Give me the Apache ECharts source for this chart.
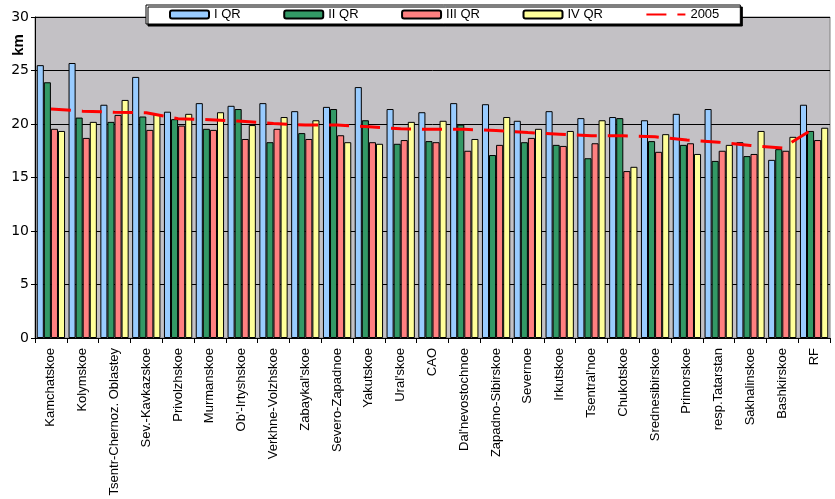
<!DOCTYPE html>
<html>
<head>
<meta charset="utf-8">
<script src="https://cdn.jsdelivr.net/npm/echarts@6/dist/echarts.min.js"></script>
<style>
  html, body { margin: 0; padding: 0; background: #ffffff; }
  #chart { width: 835px; height: 499px; }
</style>
</head>
<body>
<div id="chart"></div>
<script>
var categories = ["Kamchatskoe", "Kolymskoe", "Tsentr-Chernoz. Oblastey", "Sev.-Kavkazskoe", "Privolzhskoe",
  "Murmanskoe", "Ob'-Irtyshskoe", "Verkhne-Volzhskoe", "Zabaykal'skoe", "Severo-Zapadnoe",
  "Yakutskoe", "Ural'skoe", "CAO", "Dal'nevostochnoe", "Zapadno-Sibirskoe",
  "Severnoe", "Irkutskoe", "Tsentral'noe", "Chukotskoe", "Srednesibirskoe",
  "Primorskoe", "resp.Tatarstan", "Sakhalinskoe", "Bashkirskoe", "RF"];

var seriesNames = ["I QR", "II QR", "III QR", "IV QR", "2005"];

var q1 = [25.5, 25.7, 21.8, 24.4, 21.15, 21.95, 21.7, 21.95, 21.2, 21.6, 23.45, 21.4, 21.1, 21.95, 21.85, 20.3, 21.2, 20.55, 20.65, 20.35, 20.95, 21.4, 18.3, 16.65, 21.8];
var q2 = [23.9, 20.6, 20.2, 20.7, 20.45, 19.55, 21.4, 18.3, 19.15, 21.4, 20.35, 18.15, 18.4, 19.95, 17.1, 18.3, 18.05, 16.8, 20.55, 18.4, 18.05, 16.55, 17.0, 17.65, 19.35];
var q3 = [19.55, 18.7, 20.85, 19.45, 19.85, 19.45, 18.6, 19.55, 18.6, 18.95, 18.3, 18.5, 18.3, 17.5, 18.05, 18.7, 17.95, 18.2, 15.6, 17.4, 18.2, 17.5, 17.2, 17.5, 18.5];
var q4 = [19.35, 20.2, 22.25, 20.9, 20.95, 21.1, 19.9, 20.65, 20.35, 18.3, 18.15, 20.2, 20.3, 18.6, 20.65, 19.55, 19.35, 20.35, 16.0, 19.05, 17.2, 18.05, 19.35, 18.8, 19.65];
var y2005 = [21.4, 21.2, 21.1, 21.05, 20.5, 20.4, 20.25, 20.05, 19.9, 19.9, 19.75, 19.55, 19.5, 19.5, 19.4, 19.2, 19.05, 18.9, 18.9, 18.8, 18.5, 18.3, 18.0, 17.75, 19.6];

var yMin = 0, yMax = 30, yStep = 5;
var axisTitle = "km";

var colors = ["#99CCFF", "#339966", "#FF8080", "#FFFF99"];
var FONT = "'Liberation Sans', Arial, sans-serif";

function barSeries(name, data, color) {
  return {
    name: name,
    type: 'bar',
    data: data,
    barGap: '0%',
    barCategoryGap: '11%',
    itemStyle: { color: color, borderColor: '#000000', borderWidth: 1 },
    emphasis: { disabled: true },
    z: 2
  };
}

var legendData = seriesNames.map(function (n, i) {
  if (i === 4) {
    return { name: n, itemStyle: { color: 'rgba(0,0,0,0)', borderWidth: 0, opacity: 0 } };
  }
  return { name: n };
});

var chart = echarts.init(document.getElementById('chart'), null, { renderer: 'canvas' });
chart.setOption({
  animation: false,
  backgroundColor: '#ffffff',
  textStyle: { fontFamily: FONT },
  grid: {
    left: 35, right: 5, top: 17, bottom: 161,
    show: true,
    backgroundColor: '#C3C1C5',
    borderColor: '#808080',
    borderWidth: 1
  },
  legend: {
    data: legendData,
    left: 146, top: 5,
    itemWidth: 39, itemHeight: 8, itemGap: 42.5,
    padding: [3, 21, 3, 23],
    backgroundColor: '#ffffff',
    borderColor: '#000000', borderWidth: 1,
    shadowColor: '#000000', shadowBlur: 0, shadowOffsetX: 2, shadowOffsetY: 2,
    textStyle: { fontSize: 13, color: '#000000', fontFamily: FONT },
    selectedMode: false
  },
  xAxis: {
    type: 'category',
    data: categories,
    boundaryGap: true,
    axisLine: { lineStyle: { color: '#000000', width: 1 } },
    axisTick: { show: true, length: 5, lineStyle: { color: '#000000' } },
    axisLabel: {
      rotate: 90, interval: 0, margin: 10,
      fontSize: 13, color: '#000000', fontFamily: FONT
    },
    splitLine: { show: false }
  },
  yAxis: {
    type: 'value',
    min: yMin, max: yMax, interval: yStep,
    axisLine: { show: true, lineStyle: { color: '#000000', width: 1 } },
    axisTick: { show: true, length: 4, lineStyle: { color: '#000000' } },
    axisLabel: { fontSize: 14, margin: 6, color: '#000000', fontFamily: "'DejaVu Sans', sans-serif" },
    splitLine: { show: true, lineStyle: { color: '#000000', width: 1 } }
  },
  graphic: [{
    type: 'text',
    x: 19, y: 45,
    rotation: Math.PI / 2,
    style: {
      text: axisTitle,
      fontSize: 15, fontWeight: 'bold', fontFamily: FONT,
      fill: '#000000', align: 'center', verticalAlign: 'middle'
    },
    z: 10
  }],
  series: [
    barSeries(seriesNames[0], q1, colors[0]),
    barSeries(seriesNames[1], q2, colors[1]),
    barSeries(seriesNames[2], q3, colors[2]),
    barSeries(seriesNames[3], q4, colors[3]),
    {
      name: seriesNames[4],
      type: 'line',
      data: y2005,
      symbol: 'none',
      showSymbol: false,
      lineStyle: { color: '#FF0000', width: 3, type: [20, 11], dashOffset: 0, cap: 'butt' },
      itemStyle: { color: '#FF0000' },
      emphasis: { disabled: true },
      z: 5
    }
  ]
});
</script>
</body>
</html>
